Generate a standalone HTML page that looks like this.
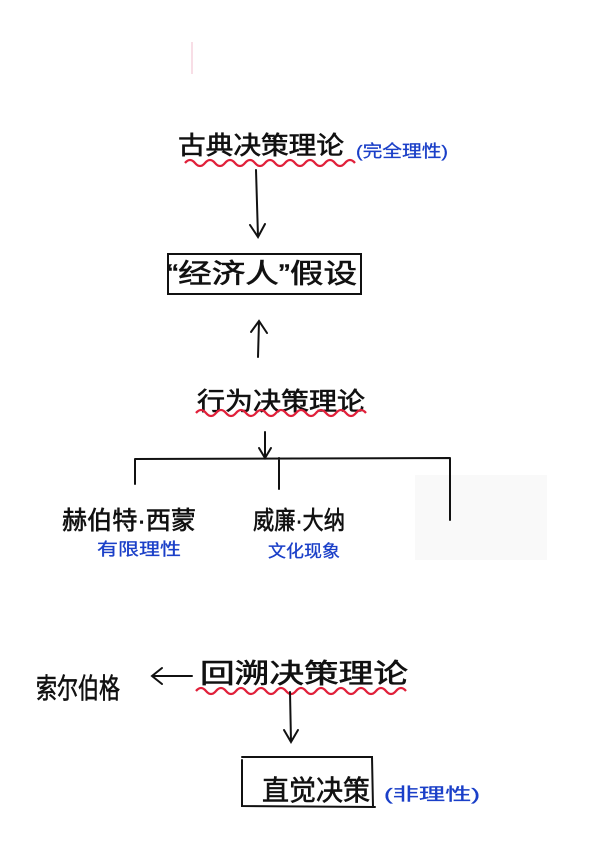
<!DOCTYPE html>
<html><head><meta charset="utf-8"><style>
html,body{margin:0;padding:0;background:#fff;width:600px;height:849px;overflow:hidden}
svg text{font-family:"Liberation Sans","Noto Sans CJK SC",sans-serif}
</style></head><body>
<svg width="600" height="849" viewBox="0 0 600 849" xmlns="http://www.w3.org/2000/svg">
<rect x="415" y="475" width="132" height="85" fill="#f9f9f9"/>
<line x1="192" y1="42" x2="192" y2="74" stroke="#f2c8d6" stroke-width="1.2"/>
<g fill="#111" stroke="#111" stroke-width="0.6">
<text x="178" y="154" font-size="25" textLength="166" lengthAdjust="spacingAndGlyphs">古典决策理论</text>
<text x="167" y="283" font-size="27" textLength="190" lengthAdjust="spacingAndGlyphs">“经济人”假设</text>
<text x="197" y="410" font-size="25" textLength="168" lengthAdjust="spacingAndGlyphs">行为决策理论</text>
<text x="62" y="529" font-size="25" textLength="134" lengthAdjust="spacingAndGlyphs">赫伯特·西蒙</text>
<text x="253" y="529" font-size="25" textLength="92" lengthAdjust="spacingAndGlyphs">威廉·大纳</text>
<text x="36" y="698" font-size="28" textLength="84" lengthAdjust="spacingAndGlyphs">索尔伯格</text>
<text x="200" y="683" font-size="27" textLength="208" lengthAdjust="spacingAndGlyphs">回溯决策理论</text>
<text x="262" y="800" font-size="28" textLength="108" lengthAdjust="spacingAndGlyphs">直觉决策</text>
</g>
<g fill="#1a3fc8" stroke="#1a3fc8" stroke-width="0.3">
<text x="356" y="157" font-size="17" textLength="92" lengthAdjust="spacingAndGlyphs">(完全理性)</text>
<text x="97" y="555" font-size="17" textLength="84" lengthAdjust="spacingAndGlyphs">有限理性</text>
<text x="268" y="557" font-size="17" textLength="72" lengthAdjust="spacingAndGlyphs">文化现象</text>
<text x="384" y="800" font-size="17" textLength="96" lengthAdjust="spacingAndGlyphs">(非理性)</text>
</g>
<g fill="none" stroke="#e0203a" stroke-width="2.2">
<path d="M185 163 q5 -6 10 0 t10 0 t10 0 t10 0 t10 0 t10 0 t10 0 t10 0 t10 0 t10 0 t10 0 t10 0 t10 0 t10 0 t10 0 t10 0 t10 0"/>
<path d="M196 413 q5 -6 10 0 t10 0 t10 0 t10 0 t10 0 t10 0 t10 0 t10 0 t10 0 t10 0 t10 0 t10 0 t10 0 t10 0 t10 0 t10 0 t10 0"/>
<path d="M196 691 q5 -6 10 0 t10 0 t10 0 t10 0 t10 0 t10 0 t10 0 t10 0 t10 0 t10 0 t10 0 t10 0 t10 0 t10 0 t10 0 t10 0 t10 0 t10 0 t10 0 t10 0 t10 0"/>
</g>
<g fill="none" stroke="#111" stroke-width="2" stroke-linecap="round">
<path d="M256 170 L258 237 M250 225 L258 237 L265 224"/>
<rect x="168" y="254" width="193" height="40"/>
<path d="M258 357 L259 321 M251 332 L259 321 L267 333"/>
<path d="M265 432 L265 458 M259 448 L265 458 L271 448"/>
<path d="M135 459 L450 458 M135 459 L135 484 M279 458 L279 489 M450 458 L450 520"/>
<path d="M192 676 L152 676 M162 668 L152 676 L162 684"/>
<path d="M290 692 L291 742 M284 730 L291 742 L298 730"/>
<path d="M242 760 L242 806 L375 807 M242 757 L372 757 L373 807"/>
</g>
</svg>
</body></html>
